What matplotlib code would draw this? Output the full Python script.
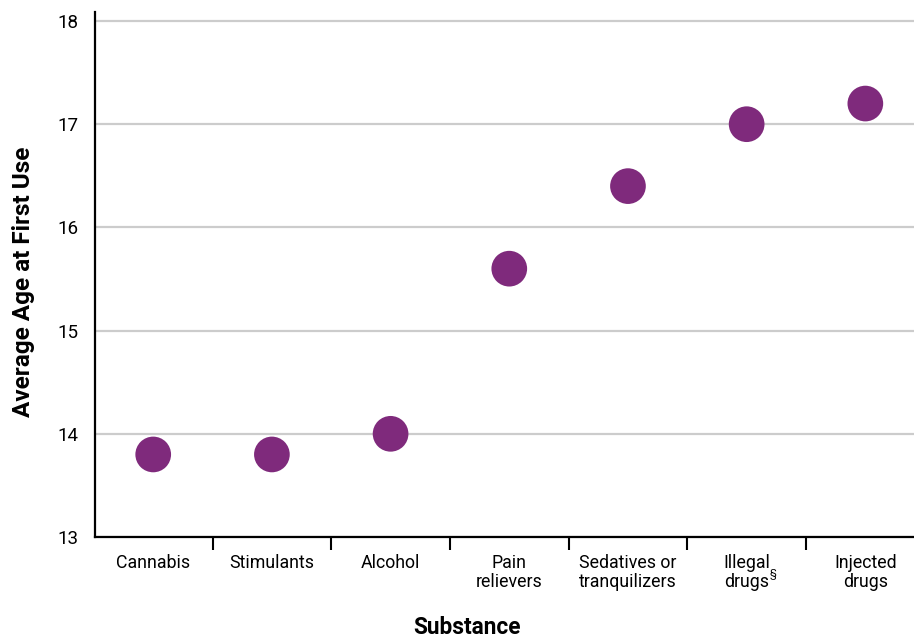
import numpy as np
import matplotlib.pyplot as plt

plt.rcParams['font.family'] = ['Roboto', 'DejaVu Sans']

substances = ["Cannabis", "Stimulants", "Alcohol", "Pain\nrelievers",
              "Sedatives or\ntranquilizers", "Illegal\ndrugs", "Injected\ndrugs"]
ages = [13.8, 13.8, 14.0, 15.6, 16.4, 17.0, 17.2]
yticks = [13, 14, 15, 16, 17, 18]

fig = plt.figure(figsize=(9.14, 6.39), dpi=100)
ax = fig.add_axes([0.104, 0.1596, 0.896, 0.8216])

x = np.arange(len(substances))
ax.scatter(x, ages, s=660, color='#7F2A7C', zorder=3, edgecolors='none')

ax.set_yticks(yticks)
ax.set_yticklabels([str(t) for t in yticks], fontsize=13.5)
ax.grid(axis='y', color='#cccccc', linewidth=1.6, zorder=0)

ax.set_xticks(x)
ax.set_xticklabels(substances, fontsize=12.8, linespacing=1.1)
ax.set_xticks(np.arange(len(substances) + 1) - 0.5, minor=True)
ax.tick_params(axis='x', which='major', length=0, pad=12)
ax.tick_params(axis='x', which='minor', length=9, width=1.5, color='black')
ax.tick_params(axis='y', length=0, pad=12)

ax.set_xlim(-0.49, 6.41)
ax.set_ylim(13, 18.087)

# section mark after "drugs"
ax.annotate("§", xy=(5, 0), xycoords=ax.get_xaxis_transform(),
            xytext=(19, -26), textcoords='offset points',
            fontsize=8, ha='center', va='center')

for s in ['top', 'right']:
    ax.spines[s].set_visible(False)
for s in ['left', 'bottom']:
    ax.spines[s].set_linewidth(1.6)
    ax.spines[s].set_color('black')

ax.set_ylabel("Average Age at First Use", fontsize=17.5, fontweight='bold')
ax.yaxis.set_label_coords(-0.073, 0.487)
ax.set_xlabel("Substance", fontsize=16.3, fontweight='bold')
ax.xaxis.set_label_coords(0.454, -0.151)

fig.savefig("out.png", dpi=100)
